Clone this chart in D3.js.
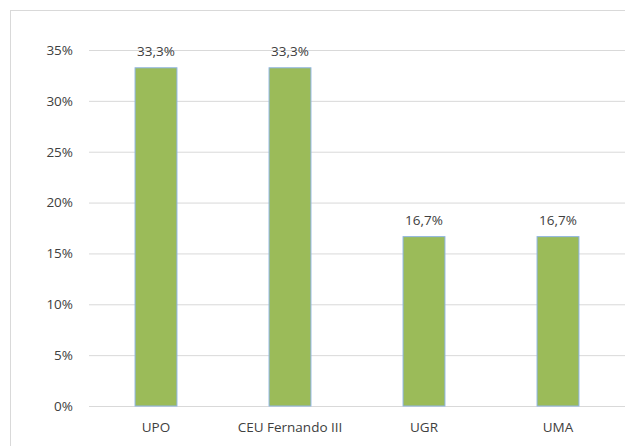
<!DOCTYPE html>
<html><head><meta charset="utf-8">
<script src="https://cdn.jsdelivr.net/npm/d3@7"></script>
<style>body{margin:0;background:#fff}svg{display:block}</style>
</head><body>
<svg id="c" width="625" height="446"></svg>
<script>
const categories = ["UPO", "CEU Fernando III", "UGR", "UMA"];
const values = [33.3, 33.3, 16.7, 16.7];
const labels = ["33,3%", "33,3%", "16,7%", "16,7%"];
const yTicks = [0, 5, 10, 15, 20, 25, 30, 35];

const svg = d3.select("#c");
const font = "'Open Sans', sans-serif";
const fs = "13.5px";
svg.append("rect").attr("x", 10.5).attr("y", 10.5).attr("width", 640).attr("height", 460)
  .attr("fill", "#fff").attr("stroke", "#d9d9d9");

const x = d3.scaleBand().domain(categories).range([89, 625]).paddingInner(0.68).paddingOuter(0.34);
const y = d3.scaleLinear().domain([0, 35]).range([406, 50]);

const gy = svg.append("g").attr("transform", "translate(89,0)")
  .call(d3.axisLeft(y).tickValues(yTicks).tickSize(-536).tickPadding(16).tickFormat(d => d + "%"));
gy.select(".domain").remove();
gy.selectAll(".tick line").attr("stroke", "#d9d9d9");
gy.selectAll(".tick text").attr("fill", "#404040").style("font-family", font).style("font-size", fs);

const gx = svg.append("g").attr("transform", "translate(0,406)")
  .call(d3.axisBottom(x).tickSize(0).tickPadding(16));
gx.select(".domain").attr("stroke", "#d9d9d9");
gx.selectAll(".tick text").attr("fill", "#404040").style("font-family", font).style("font-size", fs);

svg.selectAll(".bar").data(values).enter().append("rect")
  .attr("x", (d, i) => x(categories[i]) + 0.5)
  .attr("y", d => y(d) + 0.5)
  .attr("width", x.bandwidth() - 1)
  .attr("height", d => y(0) - y(d) - 0.5)
  .attr("fill", "#9bbb59").attr("stroke", "#8db4e2").attr("stroke-width", 1);

svg.selectAll(".lbl").data(values).enter().append("text")
  .attr("x", (d, i) => x(categories[i]) + x.bandwidth() / 2)
  .attr("y", d => y(d) - 11)
  .attr("text-anchor", "middle").attr("fill", "#404040")
  .style("font-family", font).style("font-size", fs)
  .text((d, i) => labels[i]);
</script>
</body></html>
